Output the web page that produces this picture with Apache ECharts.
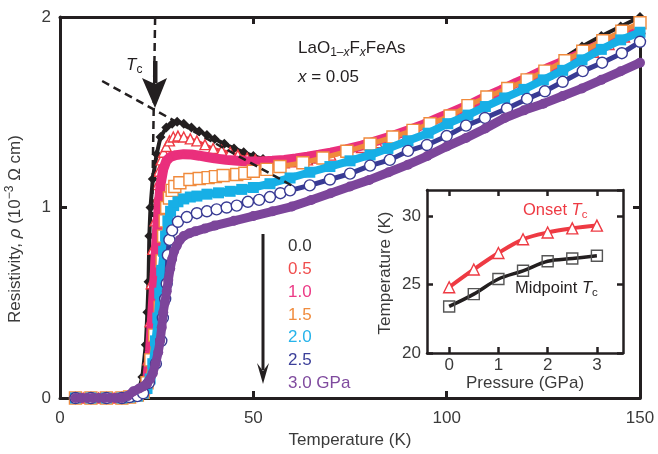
<!DOCTYPE html>
<html>
<head>
<meta charset="utf-8">
<title>LaO1-xFxFeAs resistivity under pressure</title>
<script src="https://cdn.jsdelivr.net/npm/echarts@6/dist/echarts.min.js"></script>
<style>
  html, body { margin: 0; padding: 0; background: #fff; }
  #chart { width: 658px; height: 454px; }
</style>
</head>
<body>
<div id="chart"></div>
<script>
// resistivity curves, pairs of [T (K), rho (10^-3 ohm cm)], one array per pressure
var rho00 = [[4,0],[6,0],[8,0],[10,0],[12,0],[14,0],[16,0],[18,0.005],[19.5,0.02],[20.5,0.05],[21.3,0.11],[22.2,0.28],[22.6,0.45],[22.9,0.61],[23.1,0.85],[23.4,1.0],[24,1.15],[25,1.28],[26,1.37],[27.5,1.42],[29,1.44],[30.3,1.45],[32,1.44],[34,1.42],[36,1.40],[38,1.38],[40,1.36],[42.5,1.335],[45,1.31],[47.5,1.29],[50,1.27],[52.5,1.255],[55,1.245],[57.5,1.24],[60,1.24],[65,1.25],[70,1.275],[75,1.30],[80,1.33],[85,1.365],[90,1.40],[95,1.44],[100,1.485],[105,1.53],[110,1.575],[115,1.62],[120,1.67],[125,1.72],[130,1.78],[135,1.845],[140,1.9],[145,1.95],[150,2.0]];
var rho05 = [[4,0],[6,0],[8,0],[10,0],[12,0],[14,0],[16,0],[18,0.005],[20,0.015],[22,0.05],[22.8,0.2],[23.3,0.4],[23.6,0.6],[24.0,0.78],[24.6,0.93],[25,1.04],[25.3,1.12],[25.6,1.19],[26.2,1.25],[26.8,1.29],[27.5,1.32],[28.3,1.35],[29.3,1.37],[30.5,1.375],[32,1.37],[33.7,1.36],[35.4,1.35],[37.5,1.33],[39.6,1.31],[41.8,1.30],[44,1.29],[46,1.275],[48.4,1.26],[50.5,1.25],[52.5,1.24],[55,1.235],[58,1.235],[61,1.24],[64,1.25],[67,1.26],[70,1.275],[74,1.295],[78,1.315],[82,1.34],[86,1.365],[90,1.39],[94,1.42],[98,1.45],[102,1.485],[106,1.52],[110,1.555],[114,1.59],[118,1.63],[122,1.665],[126,1.70],[130,1.74],[134,1.775],[138,1.815],[142,1.855],[146,1.895],[150,1.94]];
var rho10 = [[4,0],[8,0],[12,0],[16,0],[18,0.005],[20,0.015],[21.5,0.03],[22.5,0.08],[23.3,0.25],[23.9,0.45],[24.5,0.65],[25,0.85],[25.5,1.0],[26,1.12],[26.7,1.2],[27.5,1.245],[28.5,1.265],[30,1.275],[32,1.28],[34,1.278],[36,1.272],[38,1.265],[40,1.258],[43,1.25],[46,1.245],[49,1.242],[52,1.242],[55,1.245],[58,1.25],[61,1.258],[64,1.267],[67,1.277],[70,1.288],[74,1.305],[78,1.325],[82,1.35],[86,1.375],[90,1.405],[94,1.435],[98,1.47],[102,1.505],[106,1.54],[110,1.58],[114,1.615],[118,1.655],[122,1.69],[126,1.73],[130,1.765],[134,1.80],[138,1.84],[142,1.875],[146,1.91],[150,1.945]];
var rho15 = [[4,0],[8,0],[12,0],[16,0],[18,0.005],[20,0.015],[21.5,0.03],[22.5,0.08],[23.5,0.2],[24.5,0.33],[25.9,0.475],[26.4,0.72],[26.8,0.85],[27.2,0.93],[27.6,1.0],[28.3,1.05],[29,1.09],[29.7,1.11],[31,1.13],[33.6,1.147],[36,1.152],[38.3,1.157],[40.2,1.162],[42.2,1.168],[45.7,1.173],[47.8,1.18],[50,1.19],[53.5,1.2],[56.9,1.215],[62.8,1.235],[68,1.26],[74.2,1.295],[80.2,1.333],[86.1,1.37],[91.3,1.405],[95.7,1.44],[100.9,1.48],[105.5,1.535],[110.4,1.58],[115.8,1.625],[120.8,1.67],[125.4,1.716],[130.6,1.77],[135.2,1.82],[140.4,1.875],[145.3,1.925],[150,1.97]];
var rho20 = [[4,0],[8,0],[12,0],[16,0],[18,0.005],[20,0.01],[21.5,0.025],[22.5,0.05],[23.3,0.1],[24,0.18],[24.7,0.3],[25.3,0.42],[25.8,0.55],[26.3,0.67],[26.8,0.77],[27.3,0.85],[27.9,0.93],[28.6,0.98],[29.4,1.01],[30.5,1.03],[32,1.045],[33.7,1.055],[35.4,1.06],[38,1.07],[41,1.077],[44,1.085],[47,1.095],[50,1.105],[54.3,1.125],[59.5,1.155],[64.6,1.185],[69.8,1.215],[75,1.245],[80.2,1.276],[84.8,1.31],[90,1.35],[95.2,1.39],[100.3,1.44],[105.5,1.485],[110,1.53],[115,1.575],[120,1.62],[125,1.67],[130,1.72],[135,1.775],[140,1.83],[145,1.88],[150,1.92]];
var rho25 = [[4,0],[8,0],[12,0],[16,0],[18,0.005],[20,0.01],[21.5,0.025],[23,0.08],[24.8,0.18],[26.2,0.30],[26.6,0.42],[27.2,0.52],[27.6,0.6],[27.9,0.75],[28.3,0.83],[29,0.88],[30.5,0.925],[32.8,0.95],[35.4,0.97],[38,0.98],[40.5,0.99],[43.1,1.0],[45.7,1.01],[48.6,1.03],[51.5,1.04],[54.3,1.055],[57,1.075],[59.5,1.09],[64.6,1.116],[69.8,1.147],[75,1.178],[80.2,1.22],[85.3,1.25],[90,1.297],[94.9,1.328],[100,1.375],[105,1.43],[109.9,1.47],[115.6,1.52],[120.8,1.57],[125.4,1.61],[130,1.66],[135.2,1.716],[140.2,1.76],[145.3,1.81],[150,1.87]];
var rho30 = [[4,0],[5.5,0],[7,0],[8.5,0],[10,0],[11.5,0],[13,0],[14.5,0],[16,0],[17.5,0.01],[19,0.035],[20.5,0.05],[21.5,0.06],[22.5,0.075],[23.3,0.1],[24,0.13],[24.7,0.18],[25.4,0.24],[25.9,0.3],[26.3,0.37],[26.7,0.45],[27.1,0.5],[27.6,0.56],[28,0.62],[28.5,0.68],[29,0.73],[29.5,0.77],[30.2,0.8],[31,0.83],[32,0.85],[33.5,0.865],[35,0.875],[37.5,0.89],[40,0.905],[45,0.93],[50,0.955],[55,0.98],[60,1.005],[65,1.04],[70,1.075],[75,1.11],[80,1.145],[85,1.185],[90,1.225],[95,1.27],[100,1.32],[105,1.365],[110,1.415],[115,1.47],[120,1.51],[125,1.545],[130,1.585],[135,1.625],[140,1.67],[145,1.715],[150,1.76]];

// Tc construction lines (data coords)
var tcSteepLine = [[24.6, 2.0], [23.8, 0.95]];
var tcNormalLine = [[10.9, 1.664], [60.8, 1.106]];

// inset: Tc vs pressure
var pressures = [0, 0.5, 1, 1.5, 2, 2.5, 3];
var onsetTc = [24.8, 26.1, 27.3, 28.3, 28.8, 29.1, 29.3];
var midpointTc = [23.4, 24.3, 25.4, 26.0, 26.7, 26.9, 27.1];

var pressureLabels = ['0.0', '0.5', '1.0', '1.5', '2.0', '2.5', '3.0 GPa'];
var insetXTicks = [0, 1, 2, 3];

var FONT = '"Liberation Sans", Arial, sans-serif';
var INK = '#231f20';
var colors = ['#231f20', '#ee3a43', '#ea2f7c', '#f08a3c', '#17afe6', '#393b94', '#7c459a'];
var labelColors = ['#333333', '#f04d4d', '#ec3a86', '#f08c3e', '#26b3ea', '#3b3f99', '#7f4a9e'];

var chart = echarts.init(document.getElementById('chart'));

function frameAxis(pos, grid, min, max, interval, showLabel, extra) {
  var ax = {
    type: 'value', gridIndex: grid, position: pos, min: min, max: max,
    splitLine: { show: false },
    axisLine: { show: true, onZero: false, lineStyle: { color: INK, width: grid === 0 ? 3 : 2.5 } },
    axisTick: { show: true, inside: true, length: grid === 0 ? 7 : 6, lineStyle: { color: INK, width: grid === 0 ? 3 : 2.5 } },
    axisLabel: { show: showLabel, color: '#3a3a3a', fontSize: 17, fontFamily: FONT }
  };
  if (interval != null) ax.interval = interval;
  return Object.assign(ax, extra || {});
}

function curve(name, data, idx, symbol, size, lineW, hollow) {
  return {
    name: name, type: 'line', data: data,
    symbol: symbol, symbolSize: size,
    lineStyle: { color: colors[idx], width: lineW },
    itemStyle: hollow
      ? { color: '#fff', borderColor: colors[idx], borderWidth: 1.4 }
      : { color: colors[idx], borderWidth: 0 },
    emphasis: { disabled: true },
    z: 2 + idx * 0.01
  };
}

var option = {
  animation: false,
  backgroundColor: '#fff',
  textStyle: { fontFamily: FONT },
  grid: [
    { left: 60, top: 17, right: 18, bottom: 50 },
    { left: 427, top: 190, width: 196, height: 163, show: true, backgroundColor: '#fff', borderWidth: 0 }
  ],
  xAxis: [
    frameAxis('bottom', 0, 0, 150, 50, true, {
      axisLabel: { show: true, color: '#3a3a3a', fontSize: 17, fontFamily: FONT, margin: 12 },
      name: 'Temperature (K)', nameLocation: 'middle', nameGap: 34,
      nameTextStyle: { color: '#3a3a3a', fontSize: 17, fontFamily: FONT }
    }),
    frameAxis('top', 0, 0, 150, 50, false),
    frameAxis('bottom', 1, -0.45, 3.53, null, true, {
      axisTick: { show: true, inside: true, length: 6, customValues: insetXTicks, lineStyle: { color: INK, width: 2.5 } },
      axisLabel: { show: true, customValues: insetXTicks, color: '#3a3a3a', fontSize: 17, fontFamily: FONT, margin: 4 },
      name: 'Pressure (GPa)', nameLocation: 'middle', nameGap: 21,
      nameTextStyle: { color: '#3a3a3a', fontSize: 17, fontFamily: FONT }
    }),
    frameAxis('top', 1, -0.45, 3.53, null, false, {
      axisTick: { show: true, inside: true, length: 6, customValues: insetXTicks, lineStyle: { color: INK, width: 2.5 } }
    })
  ],
  yAxis: [
    frameAxis('left', 0, 0, 2, 1, true, {
      axisLabel: { show: true, color: '#3a3a3a', fontSize: 17, fontFamily: FONT, margin: 9 }
    }),
    frameAxis('right', 0, 0, 2, 1, false),
    frameAxis('left', 1, 20, 31.9, 5, true, {
      axisLabel: { show: true, color: '#3a3a3a', fontSize: 17, fontFamily: FONT, margin: 6, showMaxLabel: false }
    }),
    frameAxis('right', 1, 20, 31.9, 5, false)
  ],
  legend: {
    left: 278, top: 233, orient: 'vertical',
    icon: 'none', itemWidth: 0, itemHeight: 10, itemGap: 5.8,
    selectedMode: false,
    textStyle: { fontSize: 17, lineHeight: 17, fontFamily: FONT },
    data: pressureLabels.map(function (p, i) {
      return { name: p, textStyle: { color: labelColors[i] } };
    })
  },
  series: [
    curve(pressureLabels[0], rho00, 0, 'diamond', 10, 4, false),
    curve(pressureLabels[1], rho05, 1, 'triangle', 10, 3, true),
    curve(pressureLabels[2], rho10, 2, 'triangle', 7, 10, false),
    curve(pressureLabels[3], rho15, 3, 'rect', 12, 5, true),
    curve(pressureLabels[4], rho20, 4, 'rect', 11, 8, false),
    curve(pressureLabels[5], rho25, 5, 'circle', 11, 5, true),
    curve(pressureLabels[6], rho30, 6, 'circle', 10, 9, false),
    {
      type: 'line', data: tcSteepLine, symbol: 'none', z: 5,
      lineStyle: { color: INK, width: 2.5, type: [8, 5] }
    },
    {
      type: 'line', data: tcNormalLine, symbol: 'none', z: 5,
      lineStyle: { color: INK, width: 2.5, type: [8, 5] }
    },
    {
      type: 'line', xAxisIndex: 2, yAxisIndex: 2, smooth: 0.35, z: 6,
      data: pressures.map(function (p, i) { return [p, onsetTc[i]]; }),
      symbol: 'triangle', symbolSize: 11,
      lineStyle: { color: '#ee3a43', width: 4 },
      itemStyle: { color: '#fff', borderColor: '#ee3a43', borderWidth: 1.4 }
    },
    {
      type: 'line', xAxisIndex: 2, yAxisIndex: 2, smooth: 0.35, z: 6,
      data: pressures.map(function (p, i) { return [p, midpointTc[i]]; }),
      symbol: 'rect', symbolSize: 11,
      lineStyle: { color: INK, width: 3.5 },
      itemStyle: { color: 'rgba(255,255,255,0)', borderColor: '#555', borderWidth: 1.4 }
    }
  ],
  graphic: [
    {
      type: 'text', x: 15, y: 229, rotation: Math.PI / 2,
      style: {
        text: '{n|Resistivity, }{i|ρ}{n| (10}{sup|−3}{n| Ω cm)}',
        align: 'center', verticalAlign: 'middle',
        rich: {
          n: { fontSize: 17, fontFamily: FONT, fill: '#3a3a3a', lineHeight: 22 },
          i: { fontSize: 17, fontFamily: FONT, fontStyle: 'italic', fill: '#3a3a3a', lineHeight: 22 },
          sup: { fontSize: 12, fontFamily: FONT, fill: '#3a3a3a', lineHeight: 12, verticalAlign: 'top' }
        }
      }
    },
    {
      type: 'text', x: 385, y: 273, rotation: Math.PI / 2,
      style: { text: 'Temperature (K)', align: 'center', verticalAlign: 'middle', fontSize: 17, fontFamily: FONT, fill: '#3a3a3a' }
    },
    {
      type: 'text', x: 298, y: 48, z: 10,
      style: {
        text: '{n|LaO}{s|1–}{si|x}{n|F}{si|x}{n|FeAs}',
        verticalAlign: 'middle',
        rich: {
          n: { fontSize: 17, fontFamily: FONT, fill: INK, lineHeight: 22 },
          s: { fontSize: 12, fontFamily: FONT, fill: INK, lineHeight: 12, verticalAlign: 'bottom' },
          si: { fontSize: 12, fontFamily: FONT, fontStyle: 'italic', fill: INK, lineHeight: 12, verticalAlign: 'bottom' }
        }
      }
    },
    {
      type: 'text', x: 298, y: 77, z: 10,
      style: {
        text: '{i|x}{n| = 0.05}', verticalAlign: 'middle',
        rich: {
          n: { fontSize: 17, fontFamily: FONT, fill: INK },
          i: { fontSize: 17, fontFamily: FONT, fontStyle: 'italic', fill: INK }
        }
      }
    },
    {
      type: 'text', x: 126, y: 65, z: 10,
      style: {
        text: '{i|T}{s|c}', verticalAlign: 'middle',
        rich: {
          i: { fontSize: 17, fontFamily: FONT, fontStyle: 'italic', fill: INK, lineHeight: 22 },
          s: { fontSize: 12, fontFamily: FONT, fill: INK, lineHeight: 12, verticalAlign: 'bottom' }
        }
      }
    },
    {
      type: 'text', x: 523, y: 210, z: 10,
      style: {
        text: '{n|Onset }{i|T}{s|c}', verticalAlign: 'middle',
        rich: {
          n: { fontSize: 16.5, fontFamily: FONT, fill: '#ee3a43', lineHeight: 21 },
          i: { fontSize: 16.5, fontFamily: FONT, fontStyle: 'italic', fill: '#ee3a43', lineHeight: 21 },
          s: { fontSize: 11.5, fontFamily: FONT, fill: '#ee3a43', lineHeight: 11, verticalAlign: 'bottom' }
        }
      }
    },
    {
      type: 'text', x: 515, y: 288, z: 10,
      style: {
        text: '{n|Midpoint }{i|T}{s|c}', verticalAlign: 'middle',
        rich: {
          n: { fontSize: 16.5, fontFamily: FONT, fill: INK, lineHeight: 21 },
          i: { fontSize: 16.5, fontFamily: FONT, fontStyle: 'italic', fill: INK, lineHeight: 21 },
          s: { fontSize: 11.5, fontFamily: FONT, fill: INK, lineHeight: 11, verticalAlign: 'bottom' }
        }
      }
    },
    // Tc arrow
    { type: 'rect', z: 10, shape: { x: 153, y: 61, width: 4.5, height: 22 }, style: { fill: INK } },
    { type: 'polygon', z: 10, shape: { points: [[142, 78], [155, 84], [167, 78], [155, 108]] }, style: { fill: INK } },
    // pressure arrow
    { type: 'rect', z: 10, shape: { x: 261.5, y: 234, width: 3, height: 136 }, style: { fill: INK } },
    { type: 'polygon', z: 10, shape: { points: [[257, 363], [263, 371], [269, 363], [263, 384]] }, style: { fill: INK } }
  ]
};

chart.setOption(option);
</script>
</body>
</html>
